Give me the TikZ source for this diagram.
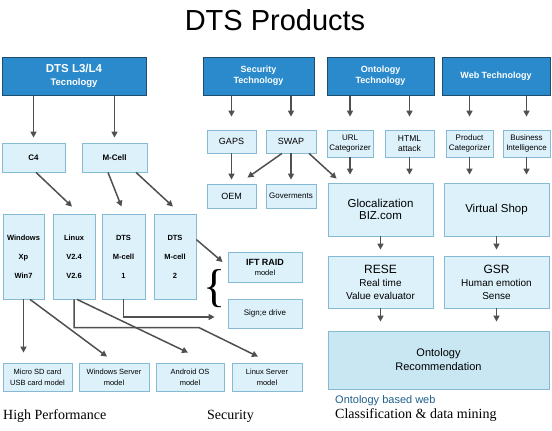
\documentclass[tikz,border=0pt]{standalone}
\usepackage{fontspec}
\setmainfont{Liberation Serif}
\setsansfont{Liberation Sans}
\usetikzlibrary{arrows.meta,calc}
\definecolor{headblue}{HTML}{2A8ACB}
\definecolor{headline}{HTML}{1D4E6E}
\definecolor{lightblue}{HTML}{DDF1FB}
\definecolor{boxline}{HTML}{86B9D3}
\definecolor{ontoblue}{HTML}{C9E6F3}
\definecolor{arrowgray}{HTML}{505050}
\definecolor{textblue}{HTML}{1F5F8B}

\begin{document}
\begin{tikzpicture}[x=1pt,y=-1pt,
    head/.style={draw=headline,fill=headblue,line width=1pt,text=white,align=center,inner sep=0pt},
    item/.style={draw=boxline,fill=lightblue,line width=0.8pt,align=center,inner sep=0pt},
    link/.style={draw=arrowgray,line width=1.5pt,-{Triangle[length=6pt,width=6pt]}}]
    \useasboundingbox (0,0) rectangle (552,431);
    \node[font=\sffamily\fontsize{29}{29}\selectfont] (title) at (275,20) {DTS Products};

    \node[head,minimum width=144pt,minimum height=38pt,font=\sffamily\bfseries\fontsize{11.5}{13}\selectfont] (dts) at (74,76) {DTS L3/L4\\{\fontsize{9.5}{11}\selectfont Tecnology}};
    \node[head,minimum width=111pt,minimum height=38pt,font=\sffamily\bfseries\fontsize{9}{11}\selectfont] (sec) at (258.5,76) {Security\\Technology};
    \node[head,minimum width=107pt,minimum height=38pt,font=\sffamily\bfseries\fontsize{9}{11}\selectfont] (ont) at (380.5,76) {Ontology\\Technology};
    \node[head,minimum width=108pt,minimum height=38pt,font=\sffamily\bfseries\fontsize{9}{11}\selectfont] (web) at (496,76) {Web Technology};

    \node[item,minimum width=63pt,minimum height=29pt,font=\sffamily\bfseries\fontsize{8}{10}\selectfont] (c4) at (33.5,157.5) {C4};
    \node[item,minimum width=65pt,minimum height=29pt,font=\sffamily\bfseries\fontsize{8}{10}\selectfont] (mcell) at (114.5,157.5) {M-Cell};
    \node[item,minimum width=49pt,minimum height=23pt,font=\sffamily\fontsize{9}{11}\selectfont] (gaps) at (231.5,141.5) {GAPS};
    \node[item,minimum width=50pt,minimum height=23pt,font=\sffamily\fontsize{9}{11}\selectfont] (swap) at (291,141.5) {SWAP};
    \node[item,minimum width=49pt,minimum height=24pt,font=\sffamily\fontsize{9}{11}\selectfont] (oem) at (231.5,196) {OEM};
    \node[item,minimum width=50pt,minimum height=24pt,font=\sffamily\fontsize{8}{10}\selectfont] (gov) at (291,196) {Goverments};
    \node[item,minimum width=46pt,minimum height=27pt,font=\sffamily\fontsize{8}{10}\selectfont] (url) at (350,143.5) {URL\\Categorizer};
    \node[item,minimum width=49pt,minimum height=27pt,font=\sffamily\fontsize{8.5}{10}\selectfont] (html) at (409.5,143.5) {HTML\\attack};
    \node[item,minimum width=47pt,minimum height=27pt,font=\sffamily\fontsize{8}{10}\selectfont] (prod) at (469.5,143.5) {Product\\Categorizer};
    \node[item,minimum width=47pt,minimum height=27pt,font=\sffamily\fontsize{8}{10}\selectfont] (biz) at (526.5,143.5) {Business\\Intelligence};

    \node[item,minimum width=105pt,minimum height=53pt,font=\sffamily\fontsize{11.5}{12.5}\selectfont] (gloc) at (380.5,209.5) {Glocalization\\BIZ.com};
    \node[item,minimum width=105pt,minimum height=53pt,font=\sffamily\fontsize{11.5}{12.5}\selectfont] (vshop) at (496.5,209.5) {Virtual Shop};
    \node[item,minimum width=105pt,minimum height=52pt,font=\sffamily\fontsize{10}{13}\selectfont] (rese) at (380.5,282) {{\fontsize{12}{13}\selectfont RESE}\\Real time\\Value evaluator};
    \node[item,minimum width=105pt,minimum height=52pt,font=\sffamily\fontsize{10}{13}\selectfont] (gsr) at (496.5,282) {{\fontsize{12}{13}\selectfont GSR}\\Human emotion\\Sense};
    \node[item,fill=ontoblue,minimum width=221pt,minimum height=58pt,font=\sffamily\fontsize{11}{14}\selectfont] (onto) at (438.5,360) {Ontology\\Recommendation};

    \node[item,minimum width=41pt,minimum height=85pt,font=\sffamily\bfseries\fontsize{7.5}{19}\selectfont] (win) at (23.5,256.5) {Windows\\Xp\\Win7};
    \node[item,minimum width=42pt,minimum height=85pt,font=\sffamily\bfseries\fontsize{7.5}{19}\selectfont] (lin) at (74,256.5) {Linux\\V2.4\\V2.6};
    \node[item,minimum width=43pt,minimum height=85pt,font=\sffamily\bfseries\fontsize{7.5}{19}\selectfont] (dm1) at (123.5,256.5) {DTS\\M-cell\\1};
    \node[item,minimum width=42pt,minimum height=85pt,font=\sffamily\bfseries\fontsize{7.5}{19}\selectfont] (dm2) at (175,256.5) {DTS\\M-cell\\2};
    \node[item,minimum width=74pt,minimum height=30pt,font=\sffamily\fontsize{7.5}{10}\selectfont] (ift) at (265,267) {{\bfseries\fontsize{9}{10}\selectfont IFT RAID}\\model};
    \node[item,minimum width=74pt,minimum height=29pt,font=\sffamily\fontsize{8}{10}\selectfont] (sign) at (265,313.5) {Sign;e drive};
    \node[font=\fontsize{46}{46}\selectfont,inner sep=0pt] (brace) at (215,289) {\{};

    \node[item,minimum width=69pt,minimum height=28pt,font=\sffamily\fontsize{7.5}{11}\selectfont] (sd) at (37.5,377) {Micro SD card\\USB card model};
    \node[item,minimum width=70pt,minimum height=28pt,font=\sffamily\fontsize{7.5}{11}\selectfont] (wsrv) at (114,377) {Windows Server\\model};
    \node[item,minimum width=68pt,minimum height=28pt,font=\sffamily\fontsize{7.5}{11}\selectfont] (andr) at (190,377) {Android OS\\model};
    \node[item,minimum width=70pt,minimum height=28pt,font=\sffamily\fontsize{7.5}{11}\selectfont] (lsrv) at (267,377) {Linux Server\\model};

    \node[anchor=west,inner sep=0pt,font=\fontsize{14}{14}\selectfont] (perf) at (3,416) {High Performance};
    \node[anchor=west,inner sep=0pt,font=\fontsize{14}{14}\selectfont] (secure) at (207,416) {Security};
    \node[anchor=west,inner sep=0pt,text=textblue,font=\sffamily\fontsize{11}{11}\selectfont] (based) at (335,401) {Ontology based web};
    \node[anchor=west,inner sep=0pt,font=\fontsize{14}{14}\selectfont] (classif) at (335,415) {Classification \& data mining};

    \draw[link,shorten >=5pt] (dts.south -| c4) -- (c4);
    \draw[link,shorten >=5pt] (dts.south -| mcell) -- (mcell);
    \draw[link,shorten >=13pt] (sec.south -| gaps) -- (gaps);
    \draw[link,shorten >=13pt] (sec.south -| swap) -- (swap);
    \draw[link,shorten >=13pt] (ont.south -| url) -- (url);
    \draw[link,shorten >=13pt] (ont.south -| html) -- (html);
    \draw[link,shorten >=13pt] (web.south -| prod) -- (prod);
    \draw[link,shorten >=13pt] (web.south -| biz) -- (biz);

    \draw[link,shorten >=4pt] (gaps) -- (oem);
    \draw[link,shorten >=4pt] (swap) -- (gov);
    \draw[link] ([xshift=-9pt]swap.south) -- ($(oem.north)+(16,-6)$);
    \draw[link] ([xshift=18pt]swap.south) -- ($(gloc.north west)+(9,-4)$);
    \draw[link,shorten >=8pt] (url) -- (url |- gloc.north);
    \draw[link,shorten >=8pt] (html) -- (html |- gloc.north);
    \draw[link,shorten >=8pt] (prod) -- (prod |- vshop.north);
    \draw[link,shorten >=8pt] (biz) -- (biz |- vshop.north);
    \draw[link,shorten >=6pt] (gloc) -- (rese);
    \draw[link,shorten >=6pt] (vshop) -- (gsr);
    \draw[link,shorten >=9pt] (rese) -- (rese |- onto.north);
    \draw[link,shorten >=9pt] (gsr) -- (gsr |- onto.north);

    \draw[link] ([xshift=2.5pt]c4.south) -- ($(lin.north)+(-2,-7)$);
    \draw[link] ([xshift=-6.5pt]mcell.south) -- ($(dm1.north)+(-2,-7)$);
    \draw[link] ([xshift=21.5pt]mcell.south) -- ($(dm2.north)+(-2,-7)$);
    \draw[link] ($(dm2.north east)+(0,26)$) -- ($(ift.west)+(-5,-5)$);
    \draw[link] (dm1.south) |- ($(sign.west)+(-13,3.5)$);
    \draw[link,shorten >=10pt] (win) -- (win.south |- sd.north);
    \draw[link] ([xshift=6.5pt]win.south) -- ($(wsrv.north)+(-7,-6)$);
    \draw[link] ([xshift=3pt]lin.south) -- ($(andr.north)+(-2,-10)$);
    \draw[link] (lin.south) |- ($(lsrv.north)+(-68,-35)$) -- ($(lsrv.north)+(-9,-6)$);
\end{tikzpicture}
\end{document}
